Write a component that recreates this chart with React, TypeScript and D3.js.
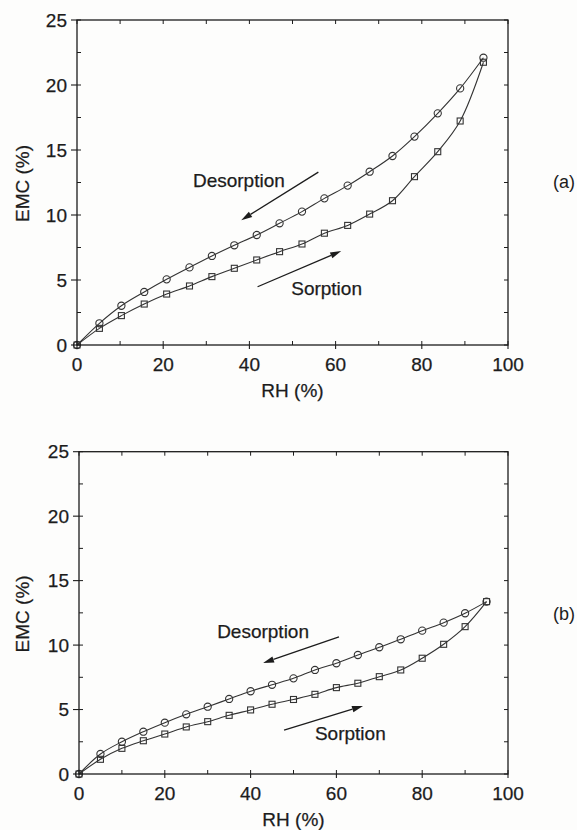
import React from "react";
import * as d3 from "d3";

// Panel (a): relative humidity steps and equilibrium moisture content
const rhA = [0, 5.2, 10.3, 15.6, 20.8, 26.1, 31.3, 36.5, 41.7, 47.0, 52.2, 57.4, 62.8, 67.9, 73.2, 78.3, 83.7, 88.9, 94.3];
const desorptionA = [0, 1.67, 3.02, 4.08, 5.05, 5.97, 6.85, 7.67, 8.46, 9.36, 10.26, 11.28, 12.26, 13.33, 14.54, 16.03, 17.82, 19.74, 22.1];
const sorptionA = [0, 1.28, 2.26, 3.15, 3.92, 4.54, 5.26, 5.9, 6.54, 7.18, 7.77, 8.6, 9.2, 10.07, 11.1, 12.95, 14.87, 17.23, 21.75];

// Panel (b)
const rhB = [0, 5, 10, 15, 20, 25, 30, 35, 40, 45, 50, 55, 60, 65, 70, 75, 80, 85, 90, 95];
const desorptionB = [0, 1.55, 2.5, 3.28, 3.98, 4.63, 5.22, 5.82, 6.42, 6.92, 7.42, 8.07, 8.59, 9.23, 9.83, 10.45, 11.12, 11.74, 12.47, 13.37];
const sorptionB = [0, 1.14, 1.99, 2.58, 3.1, 3.65, 4.06, 4.55, 4.97, 5.41, 5.78, 6.18, 6.7, 7.04, 7.55, 8.07, 8.98, 10.06, 11.43, 13.37];

const xTicks = [0, 20, 40, 60, 80, 100];
const yTicks = [0, 5, 10, 15, 20, 25];

// Annotation anchors in data units: [rhStart, emcStart, rhEnd, emcEnd]
const arrowsA = { desorption: [56, 13.3, 38.1, 9.6], sorption: [41.9, 4.48, 61.3, 7.23] };
const arrowsB = { desorption: [60.6, 10.63, 42.9, 8.61], sorption: [47.8, 3.41, 66.2, 5.28] };
const labelsA = { desorption: [26.9, 12.15], sorption: [49.7, 3.85] };
const labelsB = { desorption: [32.2, 10.55], sorption: [55.0, 2.64] };

const FONT = "'Liberation Sans', Arial, Helvetica, sans-serif";
const INK = "#1c1c1c";

type PanelProps = {
  left: number;
  right: number;
  top: number;
  bottom: number;
  rh: number[];
  des: number[];
  sor: number[];
  arrows: { desorption: number[]; sorption: number[] };
  labels: { desorption: number[]; sorption: number[] };
  tag: string;
  tagY: number;
};

function Arrow({ x1, y1, x2, y2 }: { x1: number; y1: number; x2: number; y2: number }) {
  const ang = Math.atan2(y2 - y1, x2 - x1);
  const len = 11;
  const half = 3.2;
  const bx = x2 - len * Math.cos(ang);
  const by = y2 - len * Math.sin(ang);
  const px = -Math.sin(ang) * half;
  const py = Math.cos(ang) * half;
  return (
    <g>
      <line x1={x1} y1={y1} x2={bx} y2={by} stroke={INK} strokeWidth={1.3} />
      <path d={`M${x2},${y2}L${bx + px},${by + py}L${bx - px},${by - py}Z`} fill={INK} />
    </g>
  );
}

function Panel(p: PanelProps) {
  const x = d3.scaleLinear().domain([0, 100]).range([p.left, p.right]);
  const y = d3.scaleLinear().domain([0, 25]).range([p.bottom, p.top]);
  const line = d3
    .line<number>()
    .x((_, i) => x(p.rh[i]))
    .curve(d3.curveCatmullRom.alpha(0.5));
  const desPath = line.y((v) => y(v))(p.des) || "";
  const sorPath = line.y((v) => y(v))(p.sor) || "";

  const minorY = d3.range(0, 25.01, 2.5);
  const minorX = d3.range(0, 100.01, 10);
  const lw = 1.3;
  const txt = { fontSize: 19, fontFamily: FONT, fill: INK, stroke: INK, strokeWidth: 0.25 };

  return (
    <g>
      {/* lines */}
      <path d={desPath} fill="none" stroke="#333" strokeWidth={1.1} />
      <path d={sorPath} fill="none" stroke="#333" strokeWidth={1.1} />
      {/* markers */}
      {p.des.map((v, i) => (
        <circle key={"c" + i} cx={x(p.rh[i])} cy={y(v)} r={3.6} fill="none" stroke="#333" strokeWidth={1.1} />
      ))}
      {p.sor.map((v, i) => (
        <rect key={"s" + i} x={x(p.rh[i]) - 3} y={y(v) - 3} width={6} height={6} fill="none" stroke="#333" strokeWidth={1.1} />
      ))}
      {/* frame */}
      <rect x={p.left} y={p.top} width={p.right - p.left} height={p.bottom - p.top} fill="none" stroke={INK} strokeWidth={lw} />
      {/* inward minor ticks */}
      {minorY.map((v) => (
        <g key={"my" + v}>
          <line x1={p.left} x2={p.left + 4} y1={y(v)} y2={y(v)} stroke={INK} strokeWidth={1} />
          <line x1={p.right} x2={p.right - 4} y1={y(v)} y2={y(v)} stroke={INK} strokeWidth={1} />
        </g>
      ))}
      {minorX.map((v) => (
        <g key={"mx" + v}>
          <line x1={x(v)} x2={x(v)} y1={p.bottom} y2={p.bottom - 4} stroke={INK} strokeWidth={1} />
          <line x1={x(v)} x2={x(v)} y1={p.top} y2={p.top + 4} stroke={INK} strokeWidth={1} />
        </g>
      ))}
      {/* outward major ticks and labels */}
      {yTicks.map((v) => (
        <g key={"yt" + v}>
          <line x1={p.left - 6} x2={p.left} y1={y(v)} y2={y(v)} stroke={INK} strokeWidth={1.1} />
          <text x={p.left - 10} y={y(v)} dy="0.35em" textAnchor="end" {...txt}>
            {v}
          </text>
        </g>
      ))}
      {xTicks.map((v) => (
        <g key={"xt" + v}>
          <line x1={x(v)} x2={x(v)} y1={p.bottom} y2={p.bottom + 4} stroke={INK} strokeWidth={1.1} />
          <text x={x(v)} y={p.bottom + 26} textAnchor="middle" {...txt}>
            {v}
          </text>
        </g>
      ))}
      {/* axis titles */}
      <text transform={`translate(29,${(p.top + p.bottom) / 2 + 1}) rotate(-90)`} textAnchor="middle" {...txt}>
        EMC (%)
      </text>
      <text x={(p.left + p.right) / 2} y={p.bottom + 52} textAnchor="middle" {...txt}>
        RH (%)
      </text>
      {/* annotations */}
      <text x={x(p.labels.desorption[0])} y={y(p.labels.desorption[1])} {...txt}>
        Desorption
      </text>
      <text x={x(p.labels.sorption[0])} y={y(p.labels.sorption[1])} {...txt}>
        Sorption
      </text>
      <Arrow
        x1={x(p.arrows.desorption[0])}
        y1={y(p.arrows.desorption[1])}
        x2={x(p.arrows.desorption[2])}
        y2={y(p.arrows.desorption[3])}
      />
      <Arrow
        x1={x(p.arrows.sorption[0])}
        y1={y(p.arrows.sorption[1])}
        x2={x(p.arrows.sorption[2])}
        y2={y(p.arrows.sorption[3])}
      />
      <text x={564} y={p.tagY} textAnchor="middle" {...txt} fontSize={18} strokeWidth={0}>
        {p.tag}
      </text>
    </g>
  );
}

export default function App() {
  return (
    <svg
      width={577}
      height={830}
      viewBox="0 0 577 830"
      style={{ position: "absolute", left: 0, top: 0, background: "#fff" }}
    >
      <rect x={0} y={0} width={577} height={830} fill="#fdfdfc" />
      <Panel
        left={77}
        right={508}
        top={20}
        bottom={345}
        rh={rhA}
        des={desorptionA}
        sor={sorptionA}
        arrows={arrowsA}
        labels={labelsA}
        tag="(a)"
        tagY={188}
      />
      <Panel
        left={79}
        right={508}
        top={451.7}
        bottom={774}
        rh={rhB}
        des={desorptionB}
        sor={sorptionB}
        arrows={arrowsB}
        labels={labelsB}
        tag="(b)"
        tagY={620}
      />
    </svg>
  );
}
